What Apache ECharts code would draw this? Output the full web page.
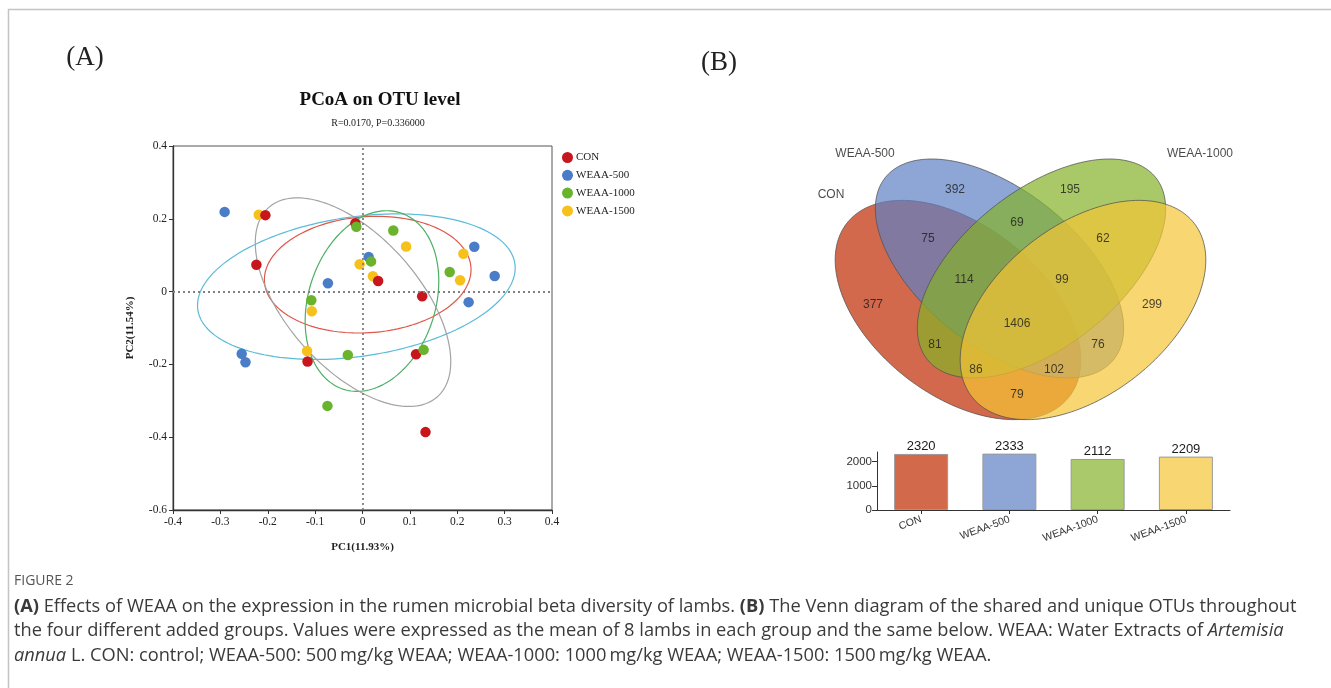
<!DOCTYPE html>
<html><head><meta charset="utf-8">
<script src="https://cdn.jsdelivr.net/npm/echarts@6/dist/echarts.min.js"></script>
<style>html,body{margin:0;padding:0;background:#fff}#c{width:1331px;height:688px}</style>
</head><body><div id="c"></div>
<script>
// ---------- DATA ----------
const groups = ['CON', 'WEAA-500', 'WEAA-1000', 'WEAA-1500'];
// PCoA sample coordinates [PC1, PC2]
const conPoints = [[-0.205,0.210],[-0.224,0.074],[-0.015,0.188],[0.126,-0.013],[0.033,0.029],[-0.116,-0.192],[0.113,-0.172],[0.133,-0.386]];
const weaa500Points = [[-0.291,0.219],[0.236,0.123],[0.279,0.043],[0.224,-0.029],[0.013,0.095],[-0.073,0.023],[-0.255,-0.171],[-0.247,-0.194]];
const weaa1000Points = [[-0.013,0.178],[0.065,0.168],[0.184,0.054],[0.018,0.083],[-0.108,-0.024],[-0.031,-0.174],[0.129,-0.160],[-0.074,-0.314]];
const weaa1500Points = [[-0.219,0.211],[0.092,0.124],[0.213,0.104],[0.206,0.031],[-0.006,0.075],[0.022,0.042],[-0.107,-0.054],[-0.117,-0.163]];
// confidence ellipses [centre PC1, centre PC2, semi-major, semi-minor, angle deg]
const ellipseParams = [[0.011,0.0465,0.219,0.159,7.7],[-0.013,0.0135,0.341,0.190,12.7],[0.020,-0.026,0.251,0.136,79.8],[-0.020,-0.029,0.3185,0.1525,-60.2]];
const pcoaStats = 'R=0.0170, P=0.336000';
// OTU totals per group
const otuTotals = [2320, 2333, 2112, 2209];
// Venn region counts
const vennRegions = ['CON','WEAA-500','WEAA-1000','WEAA-1500','CON&500','500&1000','1000&1500','CON&500&1000','500&1000&1500','all','CON&1000','500&1500','CON&1000&1500','CON&500&1500','CON&1500'];
const vennCounts = [377, 392, 195, 299, 75, 69, 62, 114, 99, 1406, 81, 76, 86, 102, 79];

// ---------- LAYOUT / STYLE ----------
const pointColors = ['#c8161d', '#4a7cc7', '#6ab42d', '#f7c11b'];
const ellipseColors = ['#e0574a', '#5bbbd9', '#4caf64', '#a3a3a3'];
const vennFills = ['rgba(191,41,0,0.7)', 'rgba(94,128,196,0.7)', 'rgba(132,178,42,0.7)', 'rgba(245,196,54,0.7)'];
const barFills = ['#d2694a', '#8ea6d6', '#a9c96a', '#f8d672'];
// Venn ellipse geometry in layout units [cx, cy, a, b, angle]
const vennShapes = [[958,310,141,85,38],[999.5,268.5,146,78,38.5],[1041.5,268.5,146,78,-38.5],[1083,310,141,85,-38]];
const vennCountPos = [[873,305],[955,190],[1070,190],[1152,305],[928,239],[1017,223],[1103,239],[964,280],[1062,280],[1017,324],[935,345],[1098,345],[976,370],[1054,370],[1017,395]];
const vennNamePos = [[831,195],[865,154],[1200,154],[1241,195]];

const serif = '"Liberation Serif","Times New Roman",serif';
const sans = '"Liberation Sans",Arial,sans-serif';
const capFont = '"Open Sans",sans-serif';

function ellipsePts(api, p, n) {
  const r = p[4] * Math.PI / 180, c = Math.cos(r), s = Math.sin(r), pts = [];
  for (let k = 0; k < n; k++) {
    const t = 2 * Math.PI * k / n, ex = p[2] * Math.cos(t), ey = p[3] * Math.sin(t);
    pts.push(api.coord([p[0] + ex * c - ey * s, p[1] + ex * s + ey * c]));
  }
  return pts;
}

const chart = echarts.init(document.getElementById('c'), null, {renderer: 'canvas'});
const pointSets = [conPoints, weaa500Points, weaa1000Points, weaa1500Points];
const drawOrder = [3, 0, 1, 2];

const scatterSeries = drawOrder.map(gi => ({
  type: 'scatter', name: groups[gi], xAxisIndex: 0, yAxisIndex: 0,
  data: pointSets[gi], symbolSize: 10.5, z: 3,
  itemStyle: {color: pointColors[gi], opacity: 1},
  emphasis: {disabled: true}
}));
scatterSeries[0].markLine = {
  silent: true, symbol: 'none', animation: false,
  label: {show: false},
  lineStyle: {type: [2, 3], color: '#808080', width: 1.8},
  data: [{xAxis: 0}, {yAxis: 0}]
};

const tickFmt = v => Math.abs(v) < 1e-9 ? '0' : v.toFixed(1);

const option = {
  animation: false,
  backgroundColor: '#fff',
  grid: [
    {left: 173, top: 146, width: 379, height: 364, show: true, borderColor: '#555', borderWidth: 1, backgroundColor: 'transparent'},
    {left: 820, top: 140, width: 420, height: 290},
    {left: 877, top: 452, width: 353, height: 58}
  ],
  xAxis: [
    {type: 'value', gridIndex: 0, min: -0.4, max: 0.4, interval: 0.1,
      axisLine: {show: true, onZero: false, lineStyle: {color: '#333', width: 1.3}},
      axisTick: {show: true, length: 4, lineStyle: {color: '#333'}},
      axisLabel: {fontFamily: serif, fontSize: 11.5, color: '#222', margin: 6, formatter: tickFmt},
      splitLine: {show: false},
      name: 'PC1(11.93%)', nameLocation: 'middle', nameGap: 32,
      nameTextStyle: {fontFamily: serif, fontSize: 11, fontWeight: 'bold', color: '#222'}},
    {type: 'value', gridIndex: 1, min: 820, max: 1240, show: false},
    {type: 'category', gridIndex: 2, data: groups,
      axisLine: {show: true, onZero: false, lineStyle: {color: '#333', width: 1}},
      axisTick: {show: true, alignWithLabel: true, length: 4, lineStyle: {color: '#333'}},
      axisLabel: {rotate: 20, fontFamily: sans, fontSize: 10.5, color: '#333', margin: 9, interval: 0}}
  ],
  yAxis: [
    {type: 'value', gridIndex: 0, min: -0.6, max: 0.4, interval: 0.2,
      axisLine: {show: true, onZero: false, lineStyle: {color: '#333', width: 1.3}},
      axisTick: {show: true, length: 4, lineStyle: {color: '#333'}},
      axisLabel: {fontFamily: serif, fontSize: 11.5, color: '#222', margin: 6, formatter: tickFmt},
      splitLine: {show: false},
      name: 'PC2(11.54%)', nameLocation: 'middle', nameGap: 37, nameRotate: 90,
      nameTextStyle: {fontFamily: serif, fontSize: 11, fontWeight: 'bold', color: '#222'}},
    {type: 'value', gridIndex: 1, min: 140, max: 430, inverse: true, show: false},
    {type: 'value', gridIndex: 2, min: 0, max: 2400, interval: 1000,
      axisLine: {show: true, onZero: false, lineStyle: {color: '#333', width: 1}},
      axisTick: {show: true, length: 5, lineStyle: {color: '#333'}},
      axisLabel: {fontFamily: sans, fontSize: 11.5, color: '#333', margin: 5, formatter: v => String(v)},
      splitLine: {show: false}}
  ],
  legend: {
    data: groups, orient: 'vertical', left: 562, top: 152, padding: 0,
    icon: 'circle', itemWidth: 11, itemHeight: 11, itemGap: 6.8,
    textStyle: {fontFamily: serif, fontSize: 11, color: '#222', padding: [0, 0, 0, -2]},
    selectedMode: false
  },
  series: [
    {type: 'custom', name: 'ellipses', xAxisIndex: 0, yAxisIndex: 0, z: 2, clip: false,
      data: ellipseParams, encode: {x: 0, y: 1},
      renderItem: (params, api) => {
        const p = [0, 1, 2, 3, 4].map(i => api.value(i));
        return {type: 'polygon', shape: {points: ellipsePts(api, p, 160)},
          style: {fill: 'none', stroke: ellipseColors[params.dataIndex], lineWidth: 1.2}};
      }},
    ...scatterSeries,
    {type: 'custom', name: 'venn', xAxisIndex: 1, yAxisIndex: 1, z: 2, clip: false,
      data: vennShapes, encode: {x: 0, y: 1},
      renderItem: (params, api) => {
        const p = [0, 1, 2, 3, 4].map(i => api.value(i));
        return {type: 'polygon', shape: {points: ellipsePts(api, p, 200)},
          style: {fill: vennFills[params.dataIndex], stroke: 'rgba(80,80,80,0.75)', lineWidth: 1}};
      }},
    {type: 'scatter', name: 'vennCounts', xAxisIndex: 1, yAxisIndex: 1, z: 5,
      data: vennCountPos.map((p, i) => [p[0], p[1], vennCounts[i]]),
      symbolSize: 1, itemStyle: {color: 'transparent'}, silent: true,
      label: {show: true, position: 'inside', formatter: d => String(d.value[2]),
        fontFamily: sans, fontSize: 12, color: '#1a1a1a'}},
    {type: 'scatter', name: 'vennNames', xAxisIndex: 1, yAxisIndex: 1, z: 5,
      data: vennNamePos.map((p, i) => [p[0], p[1], groups[i]]),
      symbolSize: 1, itemStyle: {color: 'transparent'}, silent: true,
      label: {show: true, position: 'inside', formatter: d => d.value[2],
        fontFamily: sans, fontSize: 12, color: '#1a1a1a'}},
    {type: 'bar', name: 'OTUs', xAxisIndex: 2, yAxisIndex: 2, barWidth: 54,
      data: otuTotals.map((v, i) => ({value: v, itemStyle: {color: barFills[i]}})),
      itemStyle: {borderColor: '#9a9a9a', borderWidth: 1},
      label: {show: true, position: 'top', distance: 1, fontFamily: sans, fontSize: 13, color: '#1a1a1a'}}
  ],
  graphic: [
    {type: 'rect', silent: true, shape: {x: 8.5, y: 9.5, width: 1400, height: 720},
      style: {fill: 'none', stroke: '#c4c4c4', lineWidth: 1.5}},
    {type: 'text', x: 85, y: 58, style: {text: '(A)', font: '27px ' + serif, fill: '#222', textAlign: 'center', textVerticalAlign: 'middle'}},
    {type: 'text', x: 719, y: 63, style: {text: '(B)', font: '27px ' + serif, fill: '#222', textAlign: 'center', textVerticalAlign: 'middle'}},
    {type: 'text', x: 380, y: 100, style: {text: 'PCoA on OTU level', font: 'bold 19px ' + serif, fill: '#111', textAlign: 'center', textVerticalAlign: 'middle'}},
    {type: 'text', x: 378, y: 123, style: {text: pcoaStats, font: '10px ' + serif, fill: '#222', textAlign: 'center', textVerticalAlign: 'middle'}},
    {type: 'text', x: 14, y: 581, style: {text: 'FIGURE 2', font: '14px ' + capFont, fill: '#555', textVerticalAlign: 'middle'}},
    {type: 'text', x: 14, y: 607, style: {
      text: '{b|(A)} Effects of WEAA on the expression in the rumen microbial beta diversity of lambs. {b|(B)} The Venn diagram of the shared and unique OTUs throughout',
      font: '18.25px ' + capFont, fill: '#3a3a3a', textVerticalAlign: 'middle',
      rich: {b: {fontWeight: 'bold', fontFamily: capFont, fontSize: 18.25, fill: '#3a3a3a'}}}},
    {type: 'text', x: 14, y: 631, style: {
      text: 'the four different added groups. Values were expressed as the mean of 8 lambs in each group and the same below. WEAA: Water Extracts of {i|Artemisia}',
      font: '18.25px ' + capFont, fill: '#3a3a3a', textVerticalAlign: 'middle',
      rich: {i: {fontStyle: 'italic', fontFamily: capFont, fontSize: 18.25, fill: '#3a3a3a'}}}},
    {type: 'text', x: 14, y: 656, style: {
      text: '{i|annua} L. CON: control; WEAA-500: 500\u2009mg/kg WEAA; WEAA-1000: 1000\u2009mg/kg WEAA; WEAA-1500: 1500\u2009mg/kg WEAA.',
      font: '18.25px ' + capFont, fill: '#3a3a3a', textVerticalAlign: 'middle',
      rich: {i: {fontStyle: 'italic', fontFamily: capFont, fontSize: 18.25, fill: '#3a3a3a'}}}}
  ]
};
chart.setOption(option);
</script></body></html>
